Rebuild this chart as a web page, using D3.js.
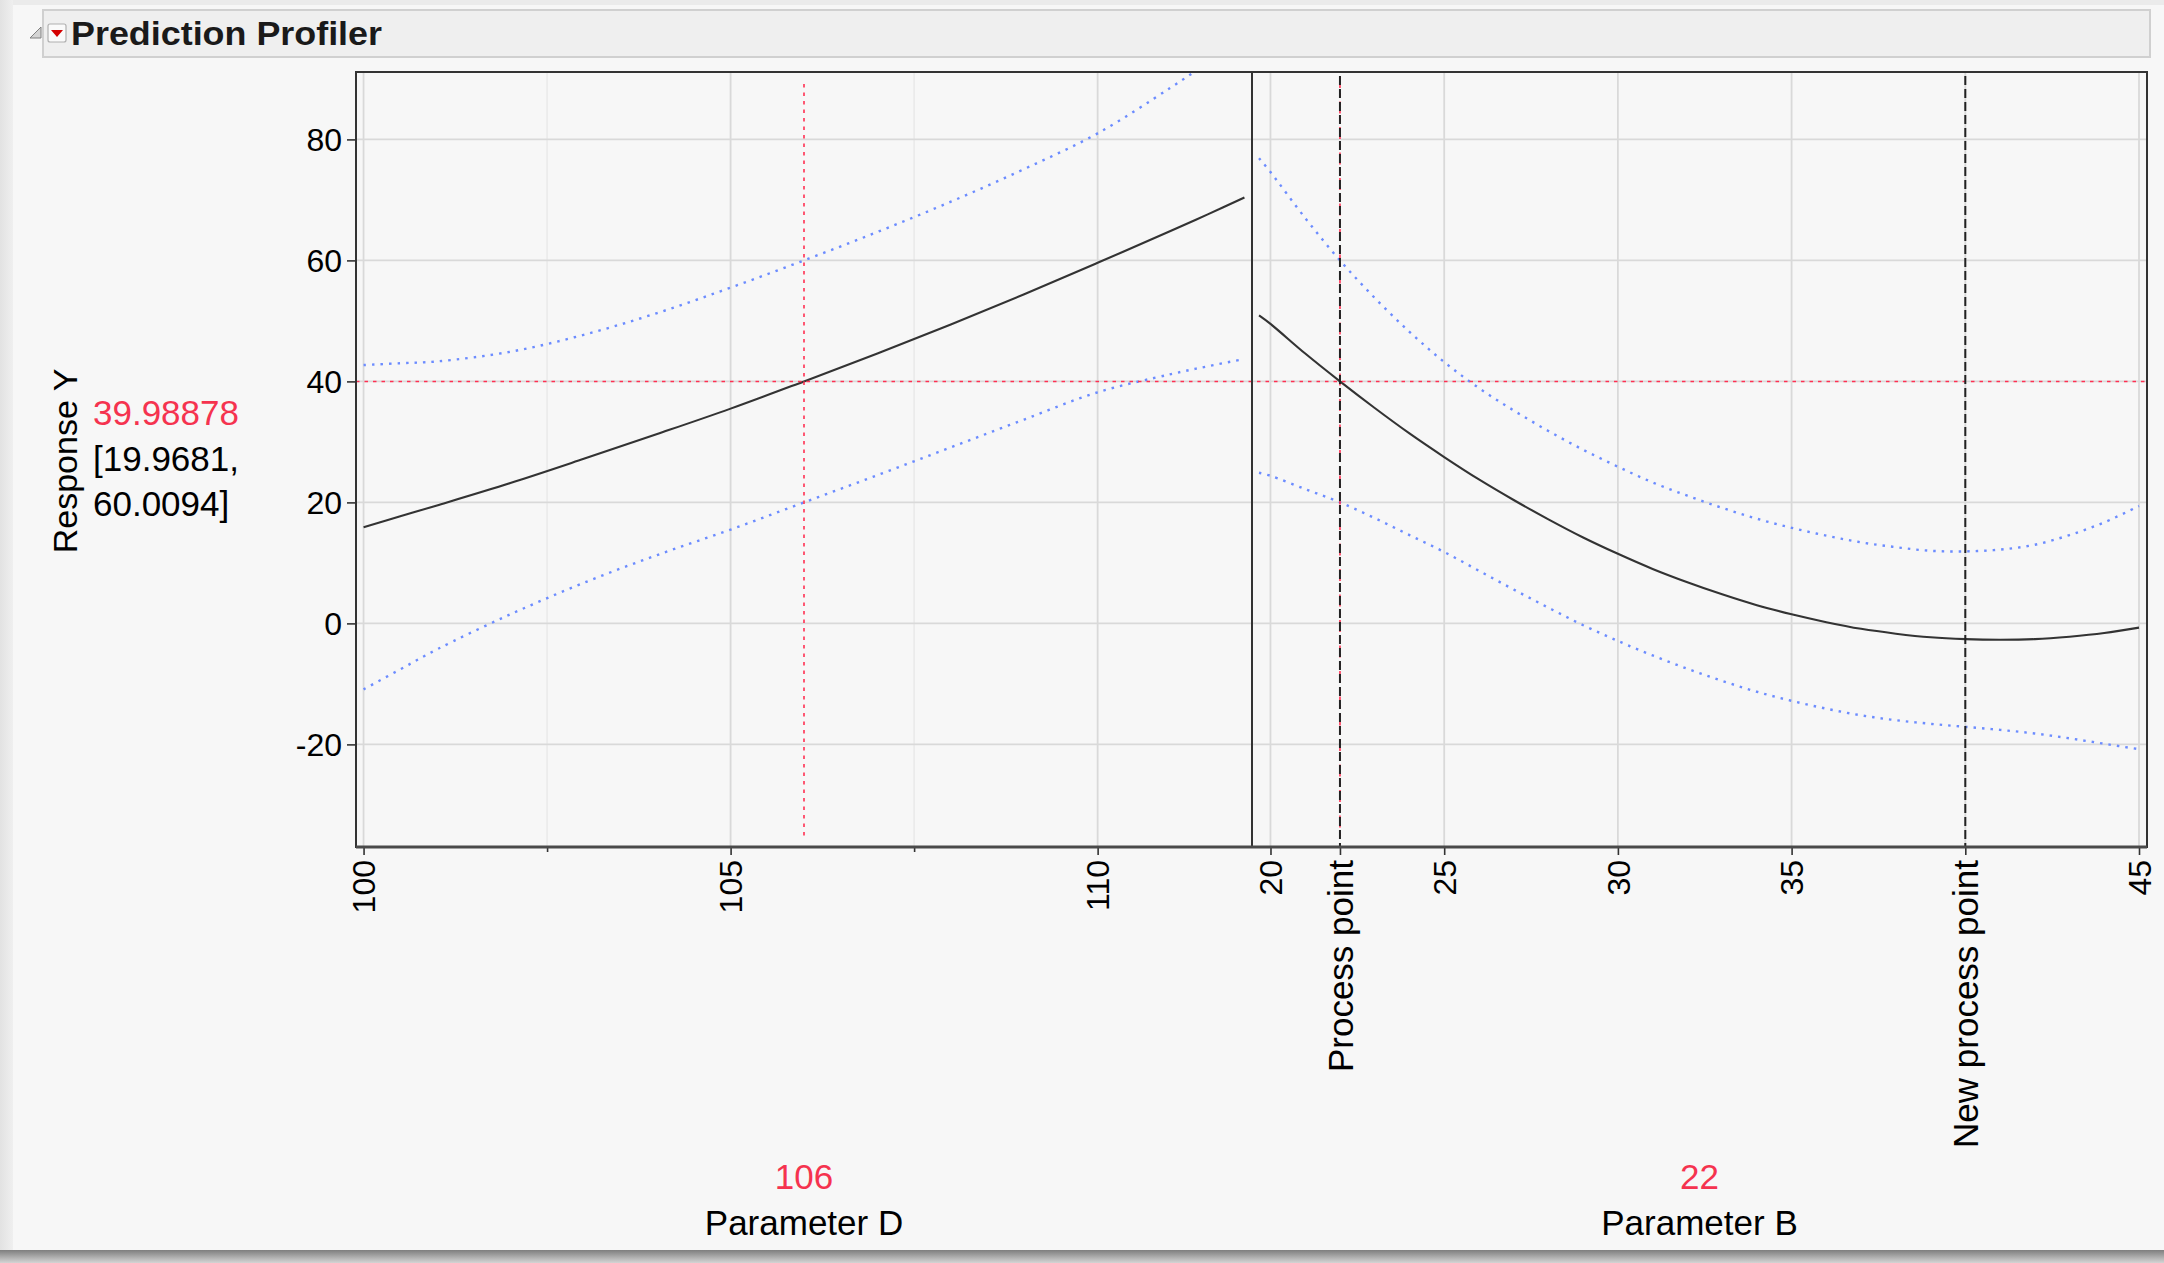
<!DOCTYPE html>
<html>
<head>
<meta charset="utf-8">
<script src="https://cdn.jsdelivr.net/npm/d3@7"></script>
<style>
  html, body { margin: 0; padding: 0; background: #f7f7f7; }
  svg { display: block; font-family: "Liberation Sans", Arial, sans-serif; }
</style>
</head>
<body>
<div id="chart"></div>
<script>
const W = 2164, H = 1263;

// response at the current settings
const responseName = "Response Y";
const responseValue = "39.98878";
const responseCI = ["[19.9681,", "60.0094]"];
const responseCurrent = 39.98878;

// factors
const factorNames = ["Parameter D", "Parameter B"];
const factorCurrent = [106, 22];

// Parameter D profile
const dX     = [100, 100.5, 101, 102, 103, 104, 105, 106, 107, 108, 109, 110, 111, 111.5, 112];
const dPred  = [15.9, 17.7, 19.5, 23.2, 27.2, 31.3, 35.5, 40.0, 44.6, 49.4, 54.4, 59.6, 64.9, 67.6, 70.4];
const dUpper = [42.7, 43.0, 43.3, 44.9, 47.7, 51.3, 55.5, 60.0, 64.7, 69.7, 75.1, 81.0, 88.6, 92.7, 97.1];
const dLower = [-10.9, -7.6, -4.3, 1.5, 6.7, 11.3, 15.5, 20.0, 24.5, 29.1, 33.7, 38.2, 41.2, 42.5, 43.7];

// Parameter B profile
const bX     = [19.67, 20, 21, 22, 23, 24, 25, 26, 27, 28, 29, 30, 31, 32, 33, 34, 35, 36, 37, 38, 39, 40, 41, 42, 43, 44, 45];
const bPred  = [50.9, 49.5, 44.6, 40.0, 35.6, 31.4, 27.5, 23.8, 20.4, 17.2, 14.2, 11.5, 9.0, 6.8, 4.8, 3.0, 1.5, 0.2, -0.9, -1.7, -2.3, -2.6, -2.7, -2.6, -2.2, -1.6, -0.7];
const bUpper = [76.9, 74.6, 67.0, 60.0, 53.8, 48.2, 43.2, 38.9, 35.2, 31.8, 28.7, 25.9, 23.3, 21.1, 19.1, 17.3, 15.8, 14.5, 13.4, 12.6, 12.0, 11.9, 12.2, 13.0, 14.6, 16.7, 19.4];
const bLower = [24.9, 24.4, 22.2, 20.0, 17.4, 14.6, 11.8, 8.7, 5.6, 2.6, -0.3, -2.9, -5.3, -7.5, -9.5, -11.3, -12.8, -14.1, -15.2, -16.0, -16.6, -17.1, -17.6, -18.2, -19.0, -19.9, -20.8];

// axes
const yTicks = [-20, 0, 20, 40, 60, 80];
const dTicks = [100, 105, 110];
const dMinorTicks = [102.5, 107.5];
const bTicks = [20, 25, 30, 35, 40, 45];
const refValues = [22, 40];
const refLabels = ["Process point", "New process point"];

const PLOT = { TOP: 72, BOTTOM: 847, LEFT: 356, MID: 1252, RIGHT: 2147 };

const svg = d3.select("#chart").append("svg")
  .attr("width", W).attr("height", H);

const defs = svg.append("defs");
const shadow = defs.append("linearGradient").attr("id", "shadow")
  .attr("x1", 0).attr("y1", 0).attr("x2", 0).attr("y2", 1);
shadow.append("stop").attr("offset", "0%").attr("stop-color", "#7e7e7e");
shadow.append("stop").attr("offset", "100%").attr("stop-color", "#d4d4d4");
const leftEdge = defs.append("linearGradient").attr("id", "leftEdge");
leftEdge.append("stop").attr("offset", "0%").attr("stop-color", "#e2e2e2");
leftEdge.append("stop").attr("offset", "100%").attr("stop-color", "#efefef");

// window background and frame shadow
svg.append("rect").attr("width", W).attr("height", H).attr("fill", "#f7f7f7");
svg.append("rect").attr("x", 0).attr("y", 0).attr("width", W).attr("height", 5).attr("fill", "#ebebeb");
svg.append("rect").attr("x", 0).attr("y", 0).attr("width", 13).attr("height", 1250).attr("fill", "url(#leftEdge)");
svg.append("rect").attr("x", 0).attr("y", 1250).attr("width", W).attr("height", 13).attr("fill", "url(#shadow)");

// header bar
svg.append("rect")
  .attr("x", 43).attr("y", 10).attr("width", 2107).attr("height", 47)
  .attr("fill", "#efefef").attr("stroke", "#d0d0d0").attr("stroke-width", 2);
svg.append("path")
  .attr("d", "M41,27 L41,38 L30,38 Z")
  .attr("fill", "#d4d4d4").attr("stroke", "#808080").attr("stroke-width", 1);
svg.append("rect")
  .attr("x", 48).attr("y", 24).attr("width", 18).attr("height", 18).attr("rx", 2)
  .attr("fill", "#fafafa").attr("stroke", "#b0b0b0").attr("stroke-width", 1.2);
svg.append("path")
  .attr("d", "M51,30 L63,30 L57,37 Z")
  .attr("fill", "#d40000");
svg.append("text")
  .attr("x", 71).attr("y", 45)
  .attr("font-size", 34).attr("font-weight", "bold").attr("fill", "#1a1a1a")
  .attr("textLength", 311).attr("lengthAdjust", "spacingAndGlyphs")
  .text("Prediction Profiler");

// scales
const y = d3.scaleLinear().domain([-36.96, 91.14]).range([PLOT.BOTTOM, PLOT.TOP]);
const xD = d3.scaleLinear().domain([99.897, 112.103]).range([PLOT.LEFT, PLOT.MID]);
const xB = d3.scaleLinear().domain([19.468, 45.23]).range([PLOT.MID, PLOT.RIGHT]);

function drawPanel(id, x, xs, pred, upper, lower, majors, minors, skipLabels) {
  const [x0, x1] = x.range();
  const g = svg.append("g");

  defs.append("clipPath").attr("id", "clip-" + id)
    .append("rect").attr("x", x0).attr("y", PLOT.TOP)
    .attr("width", x1 - x0).attr("height", PLOT.BOTTOM - PLOT.TOP);

  // grid
  g.selectAll(".minor").data(minors).enter().append("line")
    .attr("x1", d => x(d)).attr("x2", d => x(d))
    .attr("y1", PLOT.TOP).attr("y2", PLOT.BOTTOM)
    .attr("stroke", "#e9e9e9").attr("stroke-width", 1.5);
  g.selectAll(".vgrid").data(majors).enter().append("line")
    .attr("x1", d => x(d)).attr("x2", d => x(d))
    .attr("y1", PLOT.TOP).attr("y2", PLOT.BOTTOM)
    .attr("stroke", "#d9d9d9").attr("stroke-width", 1.8);
  g.selectAll(".hgrid").data(yTicks).enter().append("line")
    .attr("x1", x0).attr("x2", x1)
    .attr("y1", d => y(d)).attr("y2", d => y(d))
    .attr("stroke", "#d9d9d9").attr("stroke-width", 1.8);

  const inner = g.append("g").attr("clip-path", `url(#clip-${id})`);
  const line = vals => d3.line()
    .x((d, i) => x(xs[i]))
    .y(d => y(d))
    .curve(d3.curveCatmullRom)(vals);

  inner.append("path").attr("d", line(upper))
    .attr("fill", "none").attr("stroke", "#6c8cff").attr("stroke-width", 2.4)
    .attr("stroke-dasharray", "2.5,6");
  inner.append("path").attr("d", line(lower))
    .attr("fill", "none").attr("stroke", "#6c8cff").attr("stroke-width", 2.4)
    .attr("stroke-dasharray", "2.5,6");
  inner.append("path").attr("d", line(pred))
    .attr("fill", "none").attr("stroke", "#333").attr("stroke-width", 2.1);

  // bottom axis (labelled ticks only; reference points get their own labels)
  const labelled = majors.filter(v => !skipLabels.includes(v));
  const axis = d3.axisBottom(x).tickValues(labelled).tickSize(8).tickSizeOuter(0)
    .tickFormat(d3.format("d"));
  const ax = svg.append("g").attr("transform", `translate(0,${PLOT.BOTTOM})`).call(axis);
  ax.select(".domain").remove();
  ax.selectAll(".tick line").attr("stroke", "#333").attr("stroke-width", 1.6);
  ax.selectAll(".tick text")
    .attr("transform", "rotate(-90)")
    .attr("x", -13).attr("y", 0).attr("dy", "0.35em")
    .attr("text-anchor", "end")
    .attr("font-size", 32).attr("font-family", "Liberation Sans, Arial, sans-serif")
    .attr("fill", "#000");

  const minorAxis = d3.axisBottom(x).tickValues(minors).tickSize(5).tickFormat("");
  const mx = svg.append("g").attr("transform", `translate(0,${PLOT.BOTTOM})`).call(minorAxis);
  mx.select(".domain").remove();
  mx.selectAll(".tick line").attr("stroke", "#333").attr("stroke-width", 1.6);

  return { g, inner, ax };
}

drawPanel("d", xD, dX, dPred, dUpper, dLower, dTicks, dMinorTicks, []);
drawPanel("b", xB, bX, bPred, bUpper, bLower, bTicks, [], refValues);

// current response (horizontal) line across both panels
svg.append("line")
  .attr("x1", PLOT.LEFT).attr("x2", PLOT.RIGHT)
  .attr("y1", y(responseCurrent)).attr("y2", y(responseCurrent))
  .attr("stroke", "#ff3052").attr("stroke-width", 1.6).attr("stroke-dasharray", "3.5,5");

// current factor settings (vertical) lines
[[xD, factorCurrent[0]], [xB, factorCurrent[1]]].forEach(([x, v], i) => {
  svg.append("line")
    .attr("x1", x(v)).attr("x2", x(v))
    .attr("y1", i === 0 ? PLOT.TOP + 12 : PLOT.TOP + 4).attr("y2", PLOT.BOTTOM - 8)
    .attr("stroke", "#ff3052").attr("stroke-width", 1.6).attr("stroke-dasharray", "3.5,5");
});

// reference lines for process points
svg.selectAll(".ref").data(refValues).enter().append("line")
  .attr("x1", d => xB(d)).attr("x2", d => xB(d))
  .attr("y1", PLOT.TOP + 4).attr("y2", PLOT.BOTTOM)
  .attr("stroke", "#222").attr("stroke-width", 2).attr("stroke-dasharray", "9,4");

// reference labels on the B axis
const refAxis = d3.axisBottom(xB).tickValues(refValues).tickSize(8)
  .tickFormat((d, i) => refLabels[i]);
const rx = svg.append("g").attr("transform", `translate(0,${PLOT.BOTTOM})`).call(refAxis);
rx.select(".domain").remove();
rx.selectAll(".tick line").attr("stroke", "#333").attr("stroke-width", 1.6);
rx.selectAll(".tick text")
  .attr("transform", "rotate(-90)")
  .attr("x", -13).attr("y", 0).attr("dy", "0.35em")
  .attr("text-anchor", "end")
  .attr("font-size", 35).attr("font-family", "Liberation Sans, Arial, sans-serif")
  .attr("fill", "#000");

// frames
svg.append("rect")
  .attr("x", PLOT.LEFT).attr("y", PLOT.TOP)
  .attr("width", PLOT.MID - PLOT.LEFT).attr("height", PLOT.BOTTOM - PLOT.TOP)
  .attr("fill", "none").attr("stroke", "#333").attr("stroke-width", 2);
svg.append("rect")
  .attr("x", PLOT.MID).attr("y", PLOT.TOP)
  .attr("width", PLOT.RIGHT - PLOT.MID).attr("height", PLOT.BOTTOM - PLOT.TOP)
  .attr("fill", "none").attr("stroke", "#333").attr("stroke-width", 2);
svg.append("line")
  .attr("x1", PLOT.LEFT).attr("x2", PLOT.RIGHT)
  .attr("y1", PLOT.BOTTOM).attr("y2", PLOT.BOTTOM)
  .attr("stroke", "#4a4a4a").attr("stroke-width", 3);

// y axis
const yAxis = d3.axisLeft(y).tickValues(yTicks).tickSize(9).tickSizeOuter(0)
  .tickFormat(d => String(d));
const ya = svg.append("g").attr("transform", `translate(${PLOT.LEFT},0)`).call(yAxis);
ya.select(".domain").remove();
ya.selectAll(".tick line").attr("stroke", "#333").attr("stroke-width", 1.6);
ya.selectAll(".tick text")
  .attr("x", -14).attr("dy", "0.35em")
  .attr("font-size", 32).attr("font-family", "Liberation Sans, Arial, sans-serif")
  .attr("fill", "#000");

// response label and value
svg.append("text")
  .attr("transform", "translate(77,461) rotate(-90)")
  .attr("text-anchor", "middle").attr("font-size", 34).attr("fill", "#000")
  .text(responseName);
svg.append("text")
  .attr("x", 93).attr("y", 425).attr("font-size", 35).attr("fill", "#f5334f")
  .text(responseValue);
svg.selectAll(".ci").data(responseCI).enter().append("text")
  .attr("x", 93).attr("y", (d, i) => 471 + i * 45)
  .attr("font-size", 35).attr("fill", "#000")
  .text(d => d);

// factor names and current values
const panelCenters = [(PLOT.LEFT + PLOT.MID) / 2, (PLOT.MID + PLOT.RIGHT) / 2];
svg.selectAll(".fval").data(factorCurrent).enter().append("text")
  .attr("x", (d, i) => panelCenters[i]).attr("y", 1189)
  .attr("text-anchor", "middle").attr("font-size", 35).attr("fill", "#f5334f")
  .text(d => d);
svg.selectAll(".fname").data(factorNames).enter().append("text")
  .attr("x", (d, i) => panelCenters[i]).attr("y", 1235)
  .attr("text-anchor", "middle").attr("font-size", 35).attr("fill", "#000")
  .text(d => d);
</script>
</body>
</html>
